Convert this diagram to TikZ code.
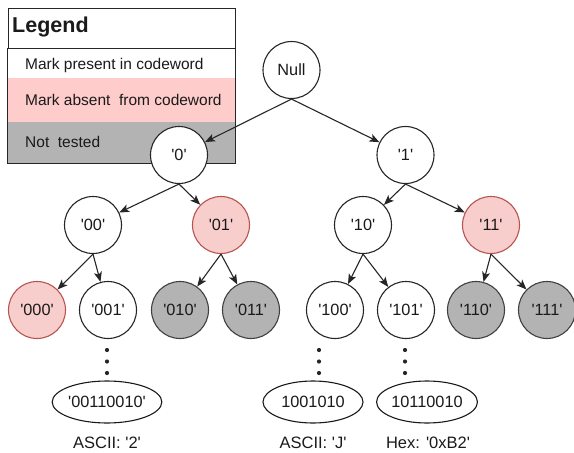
\documentclass[tikz,border=0pt]{standalone}
\usepackage{fontspec}
\setmainfont{Liberation Sans}[Ligatures=TeXOff]
\usetikzlibrary{arrows.meta,shapes.geometric}
\definecolor{pinkfill}{HTML}{F8CECC}
\definecolor{pinkline}{HTML}{B85450}
\definecolor{grayfill}{HTML}{B3B3B3}
\definecolor{legpink}{HTML}{FFCCCC}
\definecolor{txt}{HTML}{1A1A1A}
\begin{document}
\begin{tikzpicture}[x=1pt,y=-1pt,
  bnode/.style={circle,draw=black!85,line width=1.1pt,fill=white,minimum size=57pt,inner sep=0pt,text=txt,font=\fontsize{16.3}{19}\selectfont},
  absent/.style={bnode,fill=pinkfill,draw=pinkline},
  untested/.style={bnode,fill=grayfill,draw=black!75},
  leaf/.style={ellipse,draw=black!90,line width=1.1pt,fill=white,minimum width=100pt,minimum height=42pt,inner sep=0pt,text=txt,font=\fontsize{16.3}{19}\selectfont},
  edge/.style={-{Stealth[length=10pt,width=8pt,inset=2.5pt]},line width=1.1pt,draw=black!85},
  dotm/.style={circle,fill=black!85,minimum size=4.2pt,inner sep=0pt},
  legtext/.style={anchor=base west,inner sep=0pt,text=txt,font=\fontsize{15.5}{18}\selectfont},
  caption/.style={inner sep=0pt,text=txt,font=\fontsize{16.5}{19}\selectfont}
]
\useasboundingbox (0,0) rectangle (574,453);
% legend
\fill[white] (7,48) rectangle (235,78);
\fill[legpink] (7,78) rectangle (235,122);
\fill[grayfill] (7,122) rectangle (235,163);
\draw[line width=1pt,draw=black!85] (7,48) rectangle (235,163);
\draw[line width=1pt,draw=black!85,fill=white] (8,8) rectangle (235,48);
\node[legtext,font=\bfseries\fontsize{21.5}{24}\selectfont] (legtitle) at (12,32) {Legend};
\node[legtext] (legpresent) at (25,69.5) {Mark present in codeword};
\node[legtext] (legabsent) at (25,105) {Mark absent\ \ from codeword};
\node[legtext] (leguntested) at (25,147.5) {Not\ \ tested};
% tree
\node[bnode] (null) at (291.5,70) {Null};
\node[bnode] (n0) at (179,155) {'0'};
\node[bnode] (n1) at (405.5,155) {'1'};
\node[bnode] (n00) at (93,225) {'00'};
\node[absent] (n01) at (221,225) {'01'};
\node[bnode] (n10) at (363,225) {'10'};
\node[absent] (n11) at (491,225) {'11'};
\node[absent] (n000) at (37,310) {'000'};
\node[bnode] (n001) at (108,310) {'001'};
\node[untested] (n010) at (180,310) {'010'};
\node[untested] (n011) at (251,310) {'011'};
\node[bnode] (n100) at (335,310) {'100'};
\node[bnode] (n101) at (406,310) {'101'};
\node[untested] (n110) at (476,310) {'110'};
\node[untested] (n111) at (547,310) {'111'};
\draw[edge] (null.south) -- (n0);
\draw[edge] (null.south) -- (n1);
\draw[edge] (n0.south) -- (n00);
\draw[edge] (n0.south) -- (n01);
\draw[edge] (n1.south) -- (n10);
\draw[edge] (n1.south) -- (n11);
\draw[edge] (n00.south) -- (n000);
\draw[edge] (n00.south) -- (n001);
\draw[edge] (n01.south) -- (n010);
\draw[edge] (n01.south) -- (n011);
\draw[edge] (n10.south) -- (n100);
\draw[edge] (n10.south) -- (n101);
\draw[edge] (n11.south) -- (n110);
\draw[edge] (n11.south) -- (n111);
% dots
\foreach \x/\k in {107/a,319/b,405/c}{
  \node[dotm] (d1\k) at (\x,350) {};
  \node[dotm] (d2\k) at (\x,361.5) {};
  \node[dotm] (d3\k) at (\x,373) {};
}
% leaves
\node[leaf] (e1) at (107,402) {'00110010'};
\node[leaf] (e2) at (313,402) {1001010};
\node[leaf] (e3) at (427,402) {10110010};
\node[caption] (c1) at (107,443) {ASCII: '2'};
\node[caption] (c2) at (313,443) {ASCII: 'J'};
\node[caption] (c3) at (428,443) {Hex: '0xB2'};
\end{tikzpicture}
\end{document}
